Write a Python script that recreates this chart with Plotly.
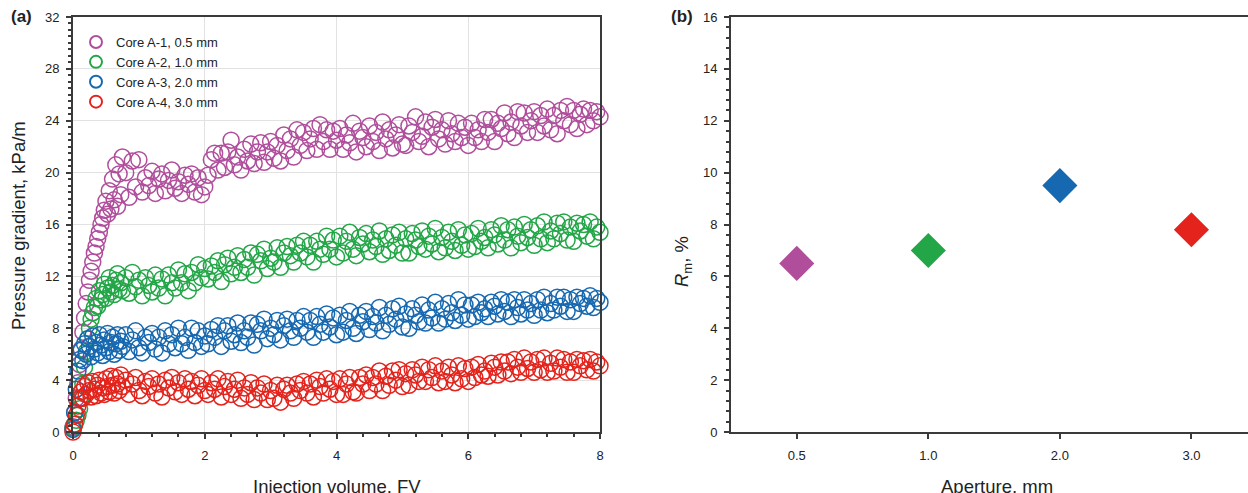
import plotly.graph_objects as go

# ---------------- data: panel (a) ----------------
INJ_FV = [
    0, 0.025, 0.05, 0.075, 0.1, 0.125, 0.15, 0.175, 0.2, 0.225,
    0.25, 0.275, 0.3, 0.325, 0.35, 0.375, 0.4, 0.425, 0.45, 0.475,
    0.5, 0.525, 0.55, 0.575, 0.6, 0.625, 0.65, 0.675, 0.7, 0.725, 0.75,
    0.8, 0.85, 0.9, 0.95, 1.0, 1.05, 1.1, 1.15, 1.2, 1.25,
    1.3, 1.35, 1.4, 1.45, 1.5, 1.55, 1.6, 1.65, 1.7, 1.75,
    1.8, 1.85, 1.9, 1.95, 2.0,
    2.05, 2.1, 2.15, 2.2, 2.25, 2.3, 2.35, 2.4, 2.45, 2.5,
    2.55, 2.6, 2.65, 2.7, 2.75, 2.8, 2.85, 2.9, 2.95, 3.0,
    3.05, 3.1, 3.15, 3.2, 3.25, 3.3, 3.35, 3.4, 3.45, 3.5,
    3.55, 3.6, 3.65, 3.7, 3.75, 3.8, 3.85, 3.9, 3.95, 4.0,
    4.05, 4.1, 4.15, 4.2, 4.25, 4.3, 4.35, 4.4, 4.45, 4.5,
    4.55, 4.6, 4.65, 4.7, 4.75, 4.8, 4.85, 4.9, 4.95, 5.0,
    5.05, 5.1, 5.15, 5.2, 5.25, 5.3, 5.35, 5.4, 5.45, 5.5,
    5.55, 5.6, 5.65, 5.7, 5.75, 5.8, 5.85, 5.9, 5.95, 6.0,
    6.05, 6.1, 6.15, 6.2, 6.25, 6.3, 6.35, 6.4, 6.45, 6.5,
    6.55, 6.6, 6.65, 6.7, 6.75, 6.8, 6.85, 6.9, 6.95, 7.0,
    7.05, 7.1, 7.15, 7.2, 7.25, 7.3, 7.35, 7.4, 7.45, 7.5,
    7.55, 7.6, 7.65, 7.7, 7.75, 7.8, 7.85, 7.9, 7.95, 8.0,
]

CORE_A1 = [
    0.4, 1.5, 2.6, 3.8, 5.2, 6.4, 7.7, 8.8, 9.9, 10.8,
    11.7, 12.4, 13.1, 13.8, 14.3, 14.9, 15.4, 16.0, 16.5, 17.1,
    17.8, 16.8, 18.6, 17.2, 19.5, 17.9, 20.6, 17.4, 19.9, 18.3, 21.2,
    20.0, 18.1, 20.9, 18.9, 21.0, 18.5, 19.6, 19.0, 20.1, 18.4,
    19.5, 19.9, 18.6, 19.4, 20.2, 18.8, 19.3, 18.4, 19.8, 19.1,
    19.9, 18.5, 19.6, 18.3, 18.9,
    19.8, 21.0, 21.5, 20.2, 21.5, 20.4, 21.6, 22.5, 20.6, 21.2,
    20.2, 21.8, 20.9, 22.2, 20.7, 21.6, 22.3, 20.8, 21.6, 22.4,
    21.1, 22.1, 20.9, 22.9, 21.7, 22.6, 21.2, 23.3, 22.1, 23.1,
    21.7, 22.6, 23.4, 21.8, 23.7, 22.4, 23.3, 21.8, 23.2, 22.5,
    23.4, 21.8, 22.9, 22.3, 23.8, 21.6, 23.2, 22.7, 22.0, 23.6,
    22.4, 23.1, 21.7, 23.9, 22.6, 23.3, 21.9, 22.9, 23.7, 22.2,
    22.1, 23.6, 23.1, 24.3, 22.4, 22.8, 23.9, 22.0, 23.5, 24.1,
    22.6, 23.3, 22.2, 24.0, 23.0, 22.4, 23.8, 22.7, 23.5, 22.1,
    23.8, 22.7, 23.3, 22.4, 24.1, 23.1, 24.1, 22.4, 23.8, 23.4,
    24.6, 23.0, 23.9, 22.7, 24.7, 23.6, 24.6, 23.1, 24.0, 24.7,
    23.1, 24.4, 23.6, 24.9, 23.3, 24.4, 23.0, 24.8, 24.0, 25.1,
    23.7, 24.8, 23.4, 24.5, 24.9, 23.7, 24.8, 24.0, 24.7, 24.3,
]

CORE_A2 = [
    0.3, 0.6, 0.9, 1.3, 1.8, 2.6, 3.7, 5.0, 6.2, 7.2,
    8.0, 8.7, 9.2, 9.6, 10.3, 9.7, 10.9, 10.2, 10.6, 11.4,
    10.3, 11.1, 11.9, 10.8, 11.3, 10.6, 11.7, 12.2, 11.0, 11.5, 10.9,
    11.9, 10.7, 12.3, 11.2, 11.7, 10.5, 11.9, 11.3, 10.8, 12.1,
    11.1, 11.8, 10.5, 12.1, 11.5, 11.1, 12.5, 11.5, 12.2, 10.9,
    12.3, 11.5, 12.9, 11.9, 12.6,
    11.8, 12.8, 12.3, 13.2, 11.6, 12.9, 13.4, 12.2, 12.7, 13.6,
    12.3, 13.3, 12.7, 13.8, 12.1, 13.7, 13.2, 14.1, 12.6, 13.4,
    13.1, 14.2, 12.7, 13.8, 14.3, 13.6, 13.1, 14.4, 13.8, 14.7,
    13.5, 14.4, 13.1, 14.7, 14.1, 13.7, 15.1, 14.1, 14.8, 13.5,
    15.1, 13.8, 14.7, 15.4, 14.1, 13.6, 15.0, 14.5, 15.3, 13.9,
    14.8, 14.3, 15.5, 13.7, 14.9, 14.0, 15.2, 14.4, 15.4, 13.8,
    14.9, 13.8, 15.3, 14.8, 14.3, 15.5, 14.1, 15.1, 14.5, 15.7,
    13.9, 15.0, 14.2, 15.4, 14.7, 14.0, 15.6, 14.4, 15.2, 14.1,
    15.3, 14.3, 15.7, 14.7, 15.0, 14.2, 15.6, 15.2, 14.5, 15.9,
    14.8, 15.6, 14.2, 15.8, 15.1, 14.6, 16.0, 15.0, 15.6, 14.4,
    15.9, 14.9, 16.2, 14.6, 15.5, 14.9, 16.1, 15.3, 16.2, 14.8,
    15.8, 14.7, 16.1, 15.5, 16.0, 15.1, 16.2, 14.9, 15.8, 15.4,
]

CORE_A3 = [
    0.2, 1.5, 3.3, 4.7, 5.6, 6.3, 5.5, 6.8, 6.0, 7.2,
    6.6, 5.8, 7.4, 6.4, 6.9, 6.1, 7.5, 6.7, 5.9, 7.1,
    6.5, 7.6, 6.2, 6.9, 7.3, 6.0, 6.8, 7.5, 6.3, 7.0, 6.6,
    7.5, 6.2, 7.1, 7.8, 6.5, 6.1, 7.3, 6.9, 7.6, 6.4,
    7.3, 6.1, 7.8, 6.8, 7.5, 6.5, 8.0, 6.8, 7.3, 6.3,
    8.0, 6.9, 7.8, 6.6, 7.4,
    6.8, 7.9, 7.3, 8.2, 6.6, 7.8, 8.2, 7.0, 7.5, 8.4,
    6.9, 7.8, 7.3, 8.4, 6.7, 8.3, 7.8, 8.7, 7.2, 8.0,
    7.5, 8.6, 7.1, 8.2, 8.7, 7.8, 7.3, 8.6, 8.0, 8.9,
    7.7, 8.6, 7.3, 8.9, 8.3, 7.7, 9.1, 8.1, 8.8, 7.5,
    9.0, 7.7, 8.6, 9.3, 8.0, 7.6, 9.0, 8.5, 9.3, 7.9,
    8.9, 8.4, 9.6, 7.8, 9.0, 8.3, 9.5, 8.7, 9.7, 8.1,
    9.1, 8.0, 9.5, 9.0, 8.5, 9.8, 8.4, 9.4, 8.8, 10.0,
    8.4, 9.5, 8.7, 9.9, 9.2, 8.6, 10.2, 9.0, 9.8, 8.7,
    9.8, 8.9, 10.0, 9.2, 9.5, 8.9, 10.0, 9.7, 9.1, 10.2,
    9.3, 10.0, 8.9, 10.2, 9.6, 9.1, 10.2, 9.4, 9.9, 9.0,
    10.2, 9.4, 10.4, 9.2, 9.9, 9.4, 10.4, 9.7, 10.4, 9.3,
    10.2, 9.3, 10.4, 9.9, 10.3, 9.7, 10.5, 9.6, 10.3, 10.0,
]

CORE_A4 = [
    0.0, 0.6, 1.3, 2.0, 2.6, 3.1, 2.6, 3.5, 2.9, 3.8,
    3.2, 2.7, 3.9, 3.3, 2.8, 3.6, 4.0, 3.0, 3.4, 2.9,
    4.1, 3.5, 3.1, 4.3, 3.6, 3.0, 4.2, 3.7, 3.2, 4.4, 3.5,
    4.0, 2.9, 3.7, 4.2, 3.2, 2.8, 3.9, 3.5, 4.1, 3.0,
    3.7, 2.7, 4.0, 3.4, 4.2, 3.1, 3.8, 2.9, 4.1, 3.3,
    3.9, 2.8, 3.6, 4.1, 3.2,
    2.9, 3.8, 3.3, 4.1, 2.7, 3.5, 3.9, 2.9, 3.3, 4.0,
    2.6, 3.4, 2.9, 3.8, 2.5, 3.4, 3.0, 3.7, 2.5, 3.2,
    2.6, 3.6, 2.3, 3.3, 3.6, 3.0, 2.6, 3.7, 3.2, 3.9,
    3.0, 3.7, 2.7, 4.0, 3.5, 3.0, 4.1, 3.3, 3.9, 2.9,
    4.1, 2.9, 3.7, 4.2, 3.1, 3.0, 4.2, 3.7, 4.4, 3.2,
    4.2, 3.7, 4.7, 3.2, 4.3, 3.6, 4.7, 4.0, 4.8, 3.5,
    4.5, 3.6, 4.8, 4.4, 3.9, 5.0, 3.9, 4.8, 4.2, 5.1,
    3.8, 4.7, 3.9, 5.0, 4.4, 3.8, 5.1, 4.1, 4.9, 3.9,
    5.0, 4.2, 5.2, 4.4, 4.7, 4.3, 5.3, 5.0, 4.4, 5.4,
    4.7, 5.4, 4.5, 5.6, 5.0, 4.6, 5.7, 4.9, 5.4, 4.6,
    5.6, 4.8, 5.7, 4.6, 5.3, 4.7, 5.7, 5.0, 5.6, 4.6,
    5.4, 4.6, 5.6, 5.1, 5.5, 4.8, 5.6, 4.7, 5.4, 5.1,
]

SERIES_NAMES = ["Core A-1, 0.5 mm", "Core A-2, 1.0 mm", "Core A-3, 2.0 mm", "Core A-4, 3.0 mm"]
COLORS = ["#B04E9C", "#22A647", "#1668B0", "#E3231C"]

# ---------------- data: panel (b) ----------------
APERTURE = ["0.5", "1.0", "2.0", "3.0"]
RM_PCT = [6.5, 7.0, 9.5, 7.8]

for s in (CORE_A1, CORE_A2, CORE_A3, CORE_A4):
    assert len(s) == len(INJ_FV), (len(s), len(INJ_FV))

W, H = 1248, 493
def px_x(p): return p / W
def px_y(p): return (H - p) / H

FONT = "Liberation Sans, Arial, sans-serif"
AX = "#3a3a3a"
GRID = "#e2e2e2"

fig = go.Figure()
for name, ys, col in zip(SERIES_NAMES, (CORE_A1, CORE_A2, CORE_A3, CORE_A4), COLORS):
    fig.add_trace(go.Scatter(
        x=INJ_FV, y=ys, mode="markers", name=name,
        marker=dict(symbol="circle-open", size=16, color=col, line=dict(width=1.5, color=col)),
        cliponaxis=False, xaxis="x", yaxis="y",
    ))

fig.add_trace(go.Scatter(
    x=APERTURE, y=RM_PCT, mode="markers", showlegend=False,
    marker=dict(symbol="diamond", size=27, color=COLORS, line=dict(width=0)),
    xaxis="x2", yaxis="y2",
))

def axis_common(standoff):
    return dict(ticks="outside", ticklen=5, tickwidth=1.5, tickcolor=AX,
                showline=True, linecolor=AX, linewidth=2, ticklabelstandoff=standoff,
                tickfont=dict(family=FONT, size=13, color="#222"))

fig.update_layout(
    width=W, height=H,
    margin=dict(l=0, r=0, t=0, b=0, autoexpand=False),
    paper_bgcolor="white", plot_bgcolor="white",
    font=dict(family=FONT, color="#222"),
    xaxis=dict(domain=[px_x(73), px_x(600)], range=[0, 8], tickvals=[0, 2, 4, 6, 8],
               showgrid=True, gridcolor=GRID, gridwidth=1, zeroline=False, mirror=True,
               minor=dict(dtick=0.4, ticks="outside", ticklen=3, tickcolor=AX, showgrid=False),
               anchor="y", automargin=False, **axis_common(5)),
    yaxis=dict(domain=[px_y(432), px_y(17)], range=[0, 32], tickvals=list(range(0, 33, 4)),
               showgrid=True, gridcolor=GRID, gridwidth=1, zeroline=False, mirror=True,
               minor=dict(dtick=0.5, ticks="outside", ticklen=3, tickcolor=AX, showgrid=False),
               anchor="x", automargin=False, **axis_common(4)),
    xaxis2=dict(domain=[px_x(731), 1.0], range=[-0.5, 3.43], type="category",
                showgrid=False, zeroline=False, mirror=True,
                anchor="y2", automargin=False, **axis_common(5)),
    yaxis2=dict(domain=[px_y(432), px_y(17)], range=[0, 16], tickvals=list(range(0, 17, 2)),
                showgrid=False, zeroline=False, mirror=False,
                minor=dict(dtick=0.4, ticks="outside", ticklen=3, tickcolor=AX, showgrid=False),
                anchor="x2", automargin=False, **axis_common(4)),
    legend=dict(x=px_x(76), y=px_y(27), xanchor="left", yanchor="top",
                bgcolor="rgba(0,0,0,0)", font=dict(family=FONT, size=13, color="#222"),
                tracegroupgap=0, itemsizing="constant"),
    showlegend=True,
)

ann = [
    ("<b>(a)</b>", 21, 17, 17, 0),
    ("<b>(b)</b>", 682, 17, 17, 0),
    ("Injection volume, FV", 337, 486, 18.5, 0),
    ("Aperture, mm", 997, 486, 18.5, 0),
    ("Pressure gradient, kPa/m", 18, 226, 18.5, -90),
    ("<i>R</i><sub>m</sub>, %", 683, 262, 18.5, -90),
]
for text, x, y, size, ang in ann:
    fig.add_annotation(xref="paper", yref="paper", showarrow=False,
                       xanchor="center", yanchor="middle",
                       font=dict(family=FONT, color="#222", size=size),
                       text=text, x=px_x(x), y=px_y(y), textangle=ang)

fig.write_html("out.html", config={"displayModeBar": False},
               post_script="document.body.style.margin='0px';document.body.style.overflow='hidden';")
